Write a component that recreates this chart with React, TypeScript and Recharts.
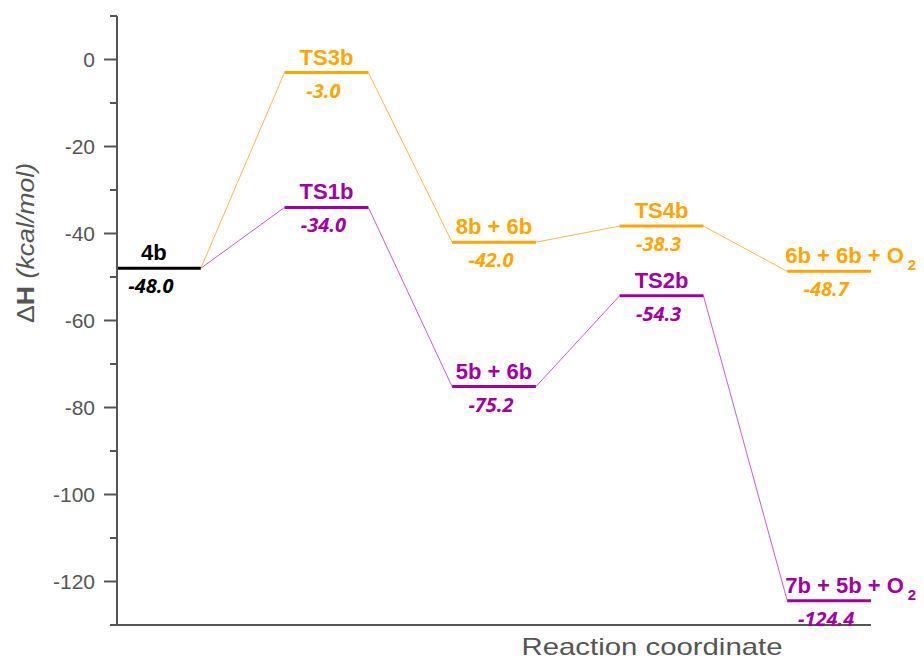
import React from 'react';
import { LineChart, Line, XAxis, YAxis, Label } from 'recharts';

// Enthalpy profile (kcal/mol) along the reaction coordinate
const startName = '4b';
const startValue = -48.0;

const orangeNames = ['TS3b', '8b + 6b', 'TS4b', '6b + 6b + O2'];
const orangeValues = [-3.0, -42.0, -38.3, -48.7];

const purpleNames = ['TS1b', '5b + 6b', 'TS2b', '7b + 5b + O2'];
const purpleValues = [-34.0, -75.2, -54.3, -124.4];

const yTicks = [-130, -120, -110, -100, -90, -80, -70, -60, -50, -40, -30, -20, -10, 0, 10];

const BLACK = '#000000';
const ORANGE = '#FFA500';
const PURPLE = '#A0009F';
const AXIS = '#555555';

type Level = { name: string; value: number; slot: number; color: string };

const levels: Level[] = [
    { name: startName, value: startValue, slot: 0, color: BLACK },
    ...orangeNames.map((name, i) => ({ name, value: orangeValues[i], slot: i + 1, color: ORANGE })),
    ...purpleNames.map((name, i) => ({ name, value: purpleValues[i], slot: i + 1, color: PURPLE })),
];
const lastSlot = orangeNames.length;

// each level occupies [2*slot, 2*slot + 1]; the midpoint carries the labels
const levelData = (lv: Level) => [
    { x: 2 * lv.slot, y: lv.value },
    { x: 2 * lv.slot + 0.5, y: lv.value },
    { x: 2 * lv.slot + 1, y: lv.value },
];

const pathData = (values: number[]) => [
    { x: 1, y: startValue },
    ...values.flatMap((v, i) => [
        { x: 2 * (i + 1), y: v },
        { x: 2 * (i + 1) + 1, y: v },
    ]),
];

const renderName = (name: string) => {
    if (name.endsWith('O2')) {
        return (
            <>
                {name.slice(0, -1)}
                <tspan fontSize={15} dx={4} dy={7}>2</tspan>
            </>
        );
    }
    return name;
};

const makeLabel = (lv: Level) => (props: any) => {
    const { x, y, index } = props;
    const alignStart = lv.slot === lastSlot;
    const shift = lv.slot === 0 ? -5 : 0;
    const parts: React.ReactNode[] = [];
    if ((alignStart && index === 0) || (!alignStart && index === 1)) {
        parts.push(
            <text
                key="n"
                x={alignStart ? x - 2 : x + shift}
                y={y - 8}
                textAnchor={alignStart ? 'start' : 'middle'}
                fill={lv.color}
                fontFamily="'Liberation Sans', Arial, sans-serif"
                fontWeight="bold"
                fontSize={22}
            >
                {renderName(lv.name)}
            </text>
        );
    }
    if (index === 1) {
        parts.push(
            <text
                key="v"
                x={x - 3 + shift}
                y={y + 25}
                textAnchor="middle"
                fill={lv.color}
                fontFamily="'Open Sans', sans-serif"
                fontWeight="bold"
                fontStyle="italic"
                fontSize={20}
            >
                {lv.value.toFixed(1)}
            </text>
        );
    }
    return <g>{parts}</g>;
};

const YTick = (props: any) => {
    const { x, y, payload } = props;
    const major = payload.value % 20 === 0;
    return (
        <g>
            <line x1={x - (major ? 13 : 7)} x2={x} y1={y} y2={y} stroke={AXIS} strokeWidth={2} />
            {major && (
                <text
                    x={x - 22}
                    y={y + 7}
                    textAnchor="end"
                    fill={AXIS}
                    fontFamily="'Liberation Sans', Arial, sans-serif"
                    fontSize={21}
                >
                    {payload.value}
                </text>
            )}
        </g>
    );
};

const YTitle = () => (
    <text
        transform="translate(34, 243) rotate(-90)"
        textAnchor="middle"
        fill={AXIS}
        fontFamily="'Liberation Sans', Arial, sans-serif"
        fontSize={23}
        textLength={160}
        lengthAdjust="spacingAndGlyphs"
    >
        <tspan>Δ</tspan>
        <tspan fontWeight="bold">H</tspan>
        <tspan fontStyle="italic"> (kcal/mol)</tspan>
    </text>
);

const XTitle = () => (
    <text
        x={652}
        y={655}
        textAnchor="middle"
        fill={AXIS}
        fontFamily="'Liberation Sans', Arial, sans-serif"
        fontSize={24}
        textLength={261}
        lengthAdjust="spacingAndGlyphs"
    >
        Reaction coordinate
    </text>
);

const App: React.FC = () => {
    return (
        <div style={{ position: 'absolute', left: 0, top: 0, background: '#fff' }}>
            <LineChart width={924} height={664} margin={{ top: 16, right: 53, left: 0, bottom: 0 }}>
                <XAxis
                    type="number"
                    dataKey="x"
                    domain={[0, 9]}
                    tick={false}
                    tickLine={false}
                    height={39}
                    axisLine={{ stroke: AXIS, strokeWidth: 2 }}
                >
                    <Label content={<XTitle />} />
                </XAxis>
                <YAxis
                    type="number"
                    dataKey="y"
                    domain={[-130, 10]}
                    ticks={yTicks}
                    interval={0}
                    width={117}
                    tickSize={0}
                    tickMargin={0}
                    tickLine={false}
                    tick={<YTick />}
                    axisLine={{ stroke: AXIS, strokeWidth: 2 }}
                >
                    <Label content={<YTitle />} />
                </YAxis>
                <Line
                    data={pathData(orangeValues)}
                    dataKey="y"
                    stroke="#FFB84D"
                    strokeWidth={1}
                    dot={false}
                    isAnimationActive={false}
                />
                <Line
                    data={pathData(purpleValues)}
                    dataKey="y"
                    stroke="#C95FC9"
                    strokeWidth={1}
                    dot={false}
                    isAnimationActive={false}
                />
                {levels.map((lv) => (
                    <Line
                        key={`${lv.name}-${lv.slot}`}
                        data={levelData(lv)}
                        dataKey="y"
                        stroke={lv.color}
                        strokeWidth={3}
                        dot={false}
                        label={makeLabel(lv)}
                        isAnimationActive={false}
                    />
                ))}
            </LineChart>
        </div>
    );
};

export default App;
